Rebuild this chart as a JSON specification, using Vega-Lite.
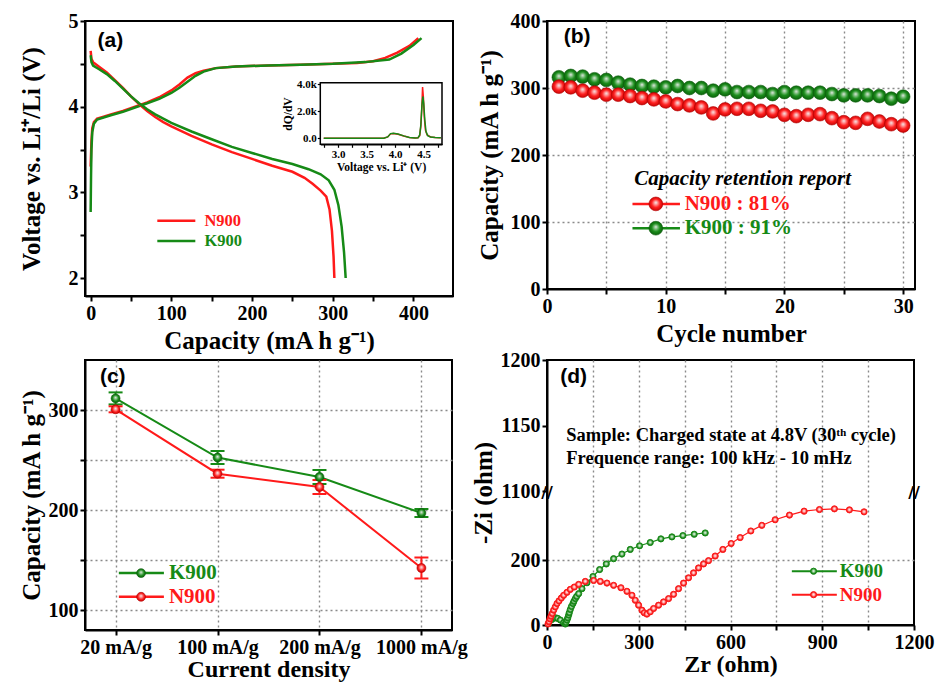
{
  "$schema": "https://vega.github.io/schema/vega-lite/v6.json",
  "background": "white",
  "padding": {"left": 18, "top": 10, "right": 5, "bottom": 3},
  "bounds": "flush",
  "columns": 2,
  "spacing": {"row": 64, "column": 94},
  "datasets": {
    "volt": [
      {"s":"N900","kind":"ch","cap":0,"v":3.3},{"s":"N900","kind":"ch","cap":1,"v":3.6},{"s":"N900","kind":"ch","cap":2,"v":3.75},{"s":"N900","kind":"ch","cap":4,"v":3.82},{"s":"N900","kind":"ch","cap":8,"v":3.86},{"s":"N900","kind":"ch","cap":15,"v":3.88},{"s":"N900","kind":"ch","cap":25,"v":3.91},{"s":"N900","kind":"ch","cap":40,"v":3.95},{"s":"N900","kind":"ch","cap":55,"v":4.0},{"s":"N900","kind":"ch","cap":70,"v":4.05},{"s":"N900","kind":"ch","cap":85,"v":4.11},{"s":"N900","kind":"ch","cap":100,"v":4.19},{"s":"N900","kind":"ch","cap":110,"v":4.26},{"s":"N900","kind":"ch","cap":120,"v":4.34},{"s":"N900","kind":"ch","cap":130,"v":4.39},{"s":"N900","kind":"ch","cap":140,"v":4.42},{"s":"N900","kind":"ch","cap":155,"v":4.45},{"s":"N900","kind":"ch","cap":180,"v":4.47},{"s":"N900","kind":"ch","cap":220,"v":4.48},{"s":"N900","kind":"ch","cap":260,"v":4.49},{"s":"N900","kind":"ch","cap":300,"v":4.5},{"s":"N900","kind":"ch","cap":330,"v":4.51},{"s":"N900","kind":"ch","cap":350,"v":4.53},{"s":"N900","kind":"ch","cap":365,"v":4.57},{"s":"N900","kind":"ch","cap":380,"v":4.63},{"s":"N900","kind":"ch","cap":395,"v":4.71},{"s":"N900","kind":"ch","cap":406,"v":4.8},
      {"s":"K900","kind":"ch","cap":0,"v":2.77},{"s":"K900","kind":"ch","cap":0.5,"v":3.2},{"s":"K900","kind":"ch","cap":1,"v":3.5},{"s":"K900","kind":"ch","cap":2,"v":3.7},{"s":"K900","kind":"ch","cap":4,"v":3.8},{"s":"K900","kind":"ch","cap":8,"v":3.85},{"s":"K900","kind":"ch","cap":15,"v":3.87},{"s":"K900","kind":"ch","cap":25,"v":3.9},{"s":"K900","kind":"ch","cap":40,"v":3.94},{"s":"K900","kind":"ch","cap":55,"v":3.99},{"s":"K900","kind":"ch","cap":70,"v":4.04},{"s":"K900","kind":"ch","cap":85,"v":4.09},{"s":"K900","kind":"ch","cap":100,"v":4.16},{"s":"K900","kind":"ch","cap":110,"v":4.22},{"s":"K900","kind":"ch","cap":120,"v":4.29},{"s":"K900","kind":"ch","cap":130,"v":4.36},{"s":"K900","kind":"ch","cap":140,"v":4.41},{"s":"K900","kind":"ch","cap":155,"v":4.45},{"s":"K900","kind":"ch","cap":180,"v":4.47},{"s":"K900","kind":"ch","cap":220,"v":4.48},{"s":"K900","kind":"ch","cap":260,"v":4.49},{"s":"K900","kind":"ch","cap":300,"v":4.5},{"s":"K900","kind":"ch","cap":340,"v":4.52},{"s":"K900","kind":"ch","cap":370,"v":4.55},{"s":"K900","kind":"ch","cap":385,"v":4.62},{"s":"K900","kind":"ch","cap":400,"v":4.72},{"s":"K900","kind":"ch","cap":410,"v":4.8},
      {"s":"N900","kind":"dis","cap":0,"v":4.65},{"s":"N900","kind":"dis","cap":1,"v":4.56},{"s":"N900","kind":"dis","cap":3,"v":4.52},{"s":"N900","kind":"dis","cap":10,"v":4.47},{"s":"N900","kind":"dis","cap":20,"v":4.4},{"s":"N900","kind":"dis","cap":30,"v":4.31},{"s":"N900","kind":"dis","cap":40,"v":4.22},{"s":"N900","kind":"dis","cap":50,"v":4.12},{"s":"N900","kind":"dis","cap":60,"v":4.03},{"s":"N900","kind":"dis","cap":70,"v":3.95},{"s":"N900","kind":"dis","cap":80,"v":3.88},{"s":"N900","kind":"dis","cap":90,"v":3.82},{"s":"N900","kind":"dis","cap":100,"v":3.77},{"s":"N900","kind":"dis","cap":125,"v":3.66},{"s":"N900","kind":"dis","cap":150,"v":3.56},{"s":"N900","kind":"dis","cap":175,"v":3.47},{"s":"N900","kind":"dis","cap":200,"v":3.39},{"s":"N900","kind":"dis","cap":225,"v":3.31},{"s":"N900","kind":"dis","cap":250,"v":3.24},{"s":"N900","kind":"dis","cap":265,"v":3.17},{"s":"N900","kind":"dis","cap":275,"v":3.1},{"s":"N900","kind":"dis","cap":285,"v":3.02},{"s":"N900","kind":"dis","cap":292,"v":2.95},{"s":"N900","kind":"dis","cap":296,"v":2.8},{"s":"N900","kind":"dis","cap":299,"v":2.55},{"s":"N900","kind":"dis","cap":301,"v":2.25},{"s":"N900","kind":"dis","cap":302,"v":2.0},
      {"s":"K900","kind":"dis","cap":0,"v":4.6},{"s":"K900","kind":"dis","cap":1,"v":4.52},{"s":"K900","kind":"dis","cap":3,"v":4.48},{"s":"K900","kind":"dis","cap":10,"v":4.44},{"s":"K900","kind":"dis","cap":20,"v":4.38},{"s":"K900","kind":"dis","cap":30,"v":4.3},{"s":"K900","kind":"dis","cap":40,"v":4.21},{"s":"K900","kind":"dis","cap":50,"v":4.12},{"s":"K900","kind":"dis","cap":60,"v":4.04},{"s":"K900","kind":"dis","cap":70,"v":3.97},{"s":"K900","kind":"dis","cap":80,"v":3.91},{"s":"K900","kind":"dis","cap":90,"v":3.86},{"s":"K900","kind":"dis","cap":100,"v":3.81},{"s":"K900","kind":"dis","cap":125,"v":3.71},{"s":"K900","kind":"dis","cap":150,"v":3.62},{"s":"K900","kind":"dis","cap":175,"v":3.53},{"s":"K900","kind":"dis","cap":200,"v":3.46},{"s":"K900","kind":"dis","cap":225,"v":3.39},{"s":"K900","kind":"dis","cap":250,"v":3.33},{"s":"K900","kind":"dis","cap":270,"v":3.27},{"s":"K900","kind":"dis","cap":285,"v":3.21},{"s":"K900","kind":"dis","cap":295,"v":3.14},{"s":"K900","kind":"dis","cap":302,"v":3.03},{"s":"K900","kind":"dis","cap":307,"v":2.85},{"s":"K900","kind":"dis","cap":311,"v":2.6},{"s":"K900","kind":"dis","cap":314,"v":2.3},{"s":"K900","kind":"dis","cap":316,"v":2.0}
    ],
    "dq": [
      {"s":"N900","v":2.75,"dq":0},{"s":"N900","v":3.5,"dq":0},{"s":"N900","v":3.8,"dq":10},{"s":"N900","v":3.87,"dq":100},{"s":"N900","v":3.92,"dq":330},{"s":"N900","v":3.97,"dq":360},{"s":"N900","v":4.05,"dq":300},{"s":"N900","v":4.15,"dq":170},{"s":"N900","v":4.25,"dq":60},{"s":"N900","v":4.35,"dq":20},{"s":"N900","v":4.4,"dq":40},{"s":"N900","v":4.43,"dq":200},{"s":"N900","v":4.45,"dq":900},{"s":"N900","v":4.47,"dq":2600},{"s":"N900","v":4.48,"dq":3800},{"s":"N900","v":4.495,"dq":3000},{"s":"N900","v":4.51,"dq":1600},{"s":"N900","v":4.53,"dq":600},{"s":"N900","v":4.56,"dq":250},{"s":"N900","v":4.62,"dq":100},{"s":"N900","v":4.7,"dq":60},{"s":"N900","v":4.8,"dq":40},
      {"s":"K900","v":2.75,"dq":0},{"s":"K900","v":3.5,"dq":0},{"s":"K900","v":3.8,"dq":10},{"s":"K900","v":3.87,"dq":100},{"s":"K900","v":3.92,"dq":350},{"s":"K900","v":3.97,"dq":380},{"s":"K900","v":4.05,"dq":320},{"s":"K900","v":4.15,"dq":180},{"s":"K900","v":4.25,"dq":60},{"s":"K900","v":4.35,"dq":20},{"s":"K900","v":4.4,"dq":40},{"s":"K900","v":4.43,"dq":250},{"s":"K900","v":4.45,"dq":1000},{"s":"K900","v":4.47,"dq":2500},{"s":"K900","v":4.485,"dq":3100},{"s":"K900","v":4.5,"dq":2600},{"s":"K900","v":4.52,"dq":1300},{"s":"K900","v":4.54,"dq":500},{"s":"K900","v":4.57,"dq":200},{"s":"K900","v":4.62,"dq":90},{"s":"K900","v":4.7,"dq":60},{"s":"K900","v":4.8,"dq":40}
    ],
    "cyc": [
      {"s":"K900","n":1,"c":316},{"s":"K900","n":2,"c":318},{"s":"K900","n":3,"c":317},{"s":"K900","n":4,"c":313},{"s":"K900","n":5,"c":312},{"s":"K900","n":6,"c":308},{"s":"K900","n":7,"c":305},{"s":"K900","n":8,"c":303},{"s":"K900","n":9,"c":302},{"s":"K900","n":10,"c":301},{"s":"K900","n":11,"c":303},{"s":"K900","n":12,"c":300},{"s":"K900","n":13,"c":300},{"s":"K900","n":14,"c":296},{"s":"K900","n":15,"c":298},{"s":"K900","n":16,"c":294},{"s":"K900","n":17,"c":294},{"s":"K900","n":18,"c":294},{"s":"K900","n":19,"c":291},{"s":"K900","n":20,"c":294},{"s":"K900","n":21,"c":293},{"s":"K900","n":22,"c":293},{"s":"K900","n":23,"c":293},{"s":"K900","n":24,"c":291},{"s":"K900","n":25,"c":289},{"s":"K900","n":26,"c":289},{"s":"K900","n":27,"c":289},{"s":"K900","n":28,"c":288},{"s":"K900","n":29,"c":284},{"s":"K900","n":30,"c":287},
      {"s":"N900","n":1,"c":302},{"s":"N900","n":2,"c":301},{"s":"N900","n":3,"c":296},{"s":"N900","n":4,"c":293},{"s":"N900","n":5,"c":290},{"s":"N900","n":6,"c":290},{"s":"N900","n":7,"c":288},{"s":"N900","n":8,"c":285},{"s":"N900","n":9,"c":283},{"s":"N900","n":10,"c":280},{"s":"N900","n":11,"c":276},{"s":"N900","n":12,"c":274},{"s":"N900","n":13,"c":271},{"s":"N900","n":14,"c":262},{"s":"N900","n":15,"c":268},{"s":"N900","n":16,"c":269},{"s":"N900","n":17,"c":269},{"s":"N900","n":18,"c":266},{"s":"N900","n":19,"c":265},{"s":"N900","n":20,"c":260},{"s":"N900","n":21,"c":258},{"s":"N900","n":22,"c":260},{"s":"N900","n":23,"c":261},{"s":"N900","n":24,"c":255},{"s":"N900","n":25,"c":249},{"s":"N900","n":26,"c":248},{"s":"N900","n":27,"c":254},{"s":"N900","n":28,"c":250},{"s":"N900","n":29,"c":246},{"s":"N900","n":30,"c":244}
    ],
    "rate": [
      {"s":"K900","i":0,"c":311.6,"lo":305.6,"hi":317.6},{"s":"K900","i":1,"c":252.5,"lo":246,"hi":259},{"s":"K900","i":2,"c":233,"lo":226,"hi":240},{"s":"K900","i":3,"c":197,"lo":193,"hi":201},
      {"s":"N900","i":0,"c":300.7,"lo":297.7,"hi":303.7},{"s":"N900","i":1,"c":236.3,"lo":232.3,"hi":240.3},{"s":"N900","i":2,"c":223,"lo":216,"hi":230},{"s":"N900","i":3,"c":142,"lo":131.5,"hi":152.5}
    ],
    "eis": [
      {"s":"K900","zr":5.4,"zi":5},{"s":"K900","zr":16.3,"zi":17.3},{"s":"K900","zr":27.2,"zi":22.3},{"s":"K900","zr":34.8,"zi":20.3},{"s":"K900","zr":43.6,"zi":15.2},{"s":"K900","zr":54.4,"zi":7.1},{"s":"K900","zr":59.9,"zi":3},{"s":"K900","zr":62,"zi":8},{"s":"K900","zr":65.3,"zi":15.2},{"s":"K900","zr":68,"zi":22},{"s":"K900","zr":70.8,"zi":30.5},{"s":"K900","zr":73,"zi":38},{"s":"K900","zr":76.2,"zi":47.7},{"s":"K900","zr":80,"zi":57},{"s":"K900","zr":84.9,"zi":66},{"s":"K900","zr":88,"zi":73},{"s":"K900","zr":92.6,"zi":81.2},{"s":"K900","zr":97,"zi":88},{"s":"K900","zr":103.5,"zi":96.4},{"s":"K900","zr":114.3,"zi":111.7},{"s":"K900","zr":130.7,"zi":130},{"s":"K900","zr":150.3,"zi":149.2},{"s":"K900","zr":172.1,"zi":170.6},{"s":"K900","zr":193.8,"zi":187.8},{"s":"K900","zr":217.8,"zi":204},{"s":"K900","zr":245,"zi":218.3},{"s":"K900","zr":272.2,"zi":232.5},{"s":"K900","zr":302.7,"zi":243.7},{"s":"K900","zr":337.6,"zi":253.8},{"s":"K900","zr":372.4,"zi":265},{"s":"K900","zr":408.4,"zi":271.1},{"s":"K900","zr":444.3,"zi":275.1},{"s":"K900","zr":481.3,"zi":279.2},{"s":"K900","zr":517.3,"zi":283.2},
      {"s":"N900","zr":3.3,"zi":3},{"s":"N900","zr":6.5,"zi":10},{"s":"N900","zr":9.8,"zi":19},{"s":"N900","zr":13,"zi":27},{"s":"N900","zr":17.4,"zi":35.5},{"s":"N900","zr":21.8,"zi":45.7},{"s":"N900","zr":27.2,"zi":55.8},{"s":"N900","zr":32.7,"zi":66},{"s":"N900","zr":39.2,"zi":74},{"s":"N900","zr":46.8,"zi":83},{"s":"N900","zr":54.5,"zi":91.4},{"s":"N900","zr":65.3,"zi":100.5},{"s":"N900","zr":76.2,"zi":109.6},{"s":"N900","zr":89.3,"zi":116.8},{"s":"N900","zr":103.5,"zi":124.9},{"s":"N900","zr":125.2,"zi":134},{"s":"N900","zr":152.5,"zi":137},{"s":"N900","zr":174.2,"zi":134},{"s":"N900","zr":196,"zi":129},{"s":"N900","zr":217.8,"zi":122},{"s":"N900","zr":241.7,"zi":114.7},{"s":"N900","zr":261.4,"zi":103.6},{"s":"N900","zr":277.7,"zi":91.4},{"s":"N900","zr":288.6,"zi":76.1},{"s":"N900","zr":299.5,"zi":60.9},{"s":"N900","zr":310.4,"zi":45.7},{"s":"N900","zr":318,"zi":37.6},{"s":"N900","zr":326.7,"zi":33.5},{"s":"N900","zr":337.6,"zi":40.6},{"s":"N900","zr":348.5,"zi":50.8},{"s":"N900","zr":364.8,"zi":60.9},{"s":"N900","zr":381.1,"zi":71.1},{"s":"N900","zr":397.5,"zi":81.2},{"s":"N900","zr":413.8,"zi":94.4},{"s":"N900","zr":430.1,"zi":111.7},{"s":"N900","zr":446.5,"zi":128.9},{"s":"N900","zr":462.8,"zi":145.2},{"s":"N900","zr":479.1,"zi":160.4},{"s":"N900","zr":495.5,"zi":175.6},{"s":"N900","zr":511.8,"zi":187.8},{"s":"N900","zr":528.1,"zi":198},{"s":"N900","zr":549.9,"zi":212.2},{"s":"N900","zr":575,"zi":232.5},{"s":"N900","zr":602.2,"zi":250.8},{"s":"N900","zr":631.6,"zi":269},{"s":"N900","zr":666.4,"zi":289.3},{"s":"N900","zr":702.4,"zi":306.6},{"s":"N900","zr":746,"zi":323.9},{"s":"N900","zr":792.8,"zi":338.1},{"s":"N900","zr":840.7,"zi":350.3},{"s":"N900","zr":890.8,"zi":355.3},{"s":"N900","zr":939.8,"zi":357.4},{"s":"N900","zr":988.8,"zi":354.3},{"s":"N900","zr":1036.7,"zi":348.2}
    ]
  },
  "concat": [
    {
      "width": 368, "height": 275,
      "layer": [
        {
          "layer": [
            {
              "data": {"name": "volt"},
              "mark": {"type": "line", "strokeWidth": 2.5},
              "encoding": {
                "x": {"field": "cap", "type": "quantitative", "scale": {"domain": [-7, 449], "nice": false, "zero": false},
                      "axis": {"title": "Capacity (mA h g⁻¹)", "values": [0,50,100,150,200,250,300,350,400], "labelExpr": "datum.value % 100 == 0 ? format(datum.value, 'd') : ''", "titlePadding": 5}},
                "y": {"field": "v", "type": "quantitative", "scale": {"domain": [1.79, 5.0], "nice": false, "zero": false},
                      "axis": {"title": "Voltage vs. Li⁺/Li (V)", "values": [2,2.5,3,3.5,4,4.5,5], "labelExpr": "datum.value % 1 == 0 ? format(datum.value, 'd') : ''", "titlePadding": 24}},
                "color": {"field": "s", "type": "nominal", "scale": {"domain": ["N900", "K900"], "range": ["#ff1a1a", "#168a16"]}, "legend": null},
                "detail": {"field": "kind"}
              }
            },
            {"data": {"values": [{}]}, "mark": {"type": "text", "text": "(a)", "font": "Liberation Sans", "fontWeight": "bold", "fontSize": 21, "align": "left", "baseline": "middle", "color": "black"},
             "encoding": {"x": {"datum": 8.5}, "y": {"datum": 4.77}}},
            {"data": {"values": [{}]}, "mark": {"type": "rule", "color": "#ff1a1a", "strokeWidth": 2.5}, "encoding": {"x": {"datum": 82.6}, "x2": {"datum": 129.7}, "y": {"datum": 2.667}}},
            {"data": {"values": [{}]}, "mark": {"type": "rule", "color": "#168a16", "strokeWidth": 2.5}, "encoding": {"x": {"datum": 82.6}, "x2": {"datum": 129.7}, "y": {"datum": 2.433}}},
            {"data": {"values": [{}]}, "mark": {"type": "text", "text": "N900", "fontSize": 16.5, "align": "left", "baseline": "middle", "color": "#ff1a1a"}, "encoding": {"x": {"datum": 141}, "y": {"datum": 2.667}}},
            {"data": {"values": [{}]}, "mark": {"type": "text", "text": "K900", "fontSize": 16.5, "align": "left", "baseline": "middle", "color": "#168a16"}, "encoding": {"x": {"datum": 141}, "y": {"datum": 2.433}}}
          ]
        },
        {
          "layer": [
            {"data": {"values": [{}]}, "mark": {"type": "rect", "fill": "white", "stroke": "black", "strokeWidth": 1.5},
             "encoding": {"x": {"datum": 2.69, "axis": {"title": "Voltage vs. Li⁺ (V)"}}, "x2": {"datum": 4.82}, "y": {"datum": -444, "axis": {"title": "dQ/dV"}}, "y2": {"datum": 4120}}},
            {"data": {"name": "dq"}, "mark": {"type": "line", "strokeWidth": 1.5},
             "encoding": {
               "x": {"field": "v", "type": "quantitative", "scale": {"domain": [2.69, 4.82], "range": [235.3, 357], "nice": false, "zero": false},
                     "axis": {"orient": "bottom", "offset": -151.7, "title": "Voltage vs. Li⁺ (V)", "values": [2.75,3,3.25,3.5,3.75,4,4.25,4.5,4.75], "labelExpr": "datum.value % 0.5 == 0 ? format(datum.value, '.1f') : ''", "labelFontSize": 11, "titleFontSize": 11.5, "tickSize": 3, "tickWidth": 1.2, "domainWidth": 1.5, "titlePadding": 2, "labelPadding": 1}},
               "y": {"field": "dq", "type": "quantitative", "scale": {"domain": [-444, 4120], "range": [123.3, 61.7], "nice": false, "zero": false},
                     "axis": {"orient": "left", "offset": -235.3, "title": "dQ/dV", "values": [0, 2000, 4000], "labelExpr": "datum.value == 0 ? '0.0' : format(datum.value / 1000, '.1f') + 'k'", "labelFontSize": 11, "titleFontSize": 11.5, "tickSize": 3, "tickWidth": 1.2, "domainWidth": 1.5, "titlePadding": 3, "labelPadding": 1}},
               "color": {"field": "s", "type": "nominal", "legend": null}
             }}
          ]
        }
      ],
      "resolve": {"scale": {"x": "independent", "y": "independent"}, "axis": {"x": "independent", "y": "independent"}}
    },
    {
      "width": 368, "height": 268,
      "layer": [
        {"data": {"name": "cyc"}, "transform": [{"filter": "datum.s == 'K900'"}],
         "mark": {"type": "circle", "size": 190, "opacity": 1, "stroke": "#0b5e0b", "strokeWidth": 0.6,
                  "fill": {"gradient": "radial", "x1": 0.5, "y1": 0.4, "r1": 0, "x2": 0.5, "y2": 0.5, "r2": 0.55, "stops": [{"offset": 0, "color": "#e8e8e8"}, {"offset": 0.25, "color": "#7fbf7f"}, {"offset": 0.55, "color": "#1a8c1a"}, {"offset": 1, "color": "#0a5a0a"}]}},
         "encoding": {
           "x": {"field": "n", "type": "quantitative", "scale": {"domain": [0, 31], "nice": false, "zero": false},
                 "axis": {"title": "Cycle number", "values": [0,5,10,15,20,25,30], "labelExpr": "datum.value % 10 == 0 ? format(datum.value, 'd') : ''", "grid": true, "gridOpacity": {"condition": {"test": "datum.value == 0", "value": 0}, "value": 1}, "titlePadding": 5}},
           "y": {"field": "c", "type": "quantitative", "scale": {"domain": [0, 400], "nice": false, "zero": false},
                 "axis": {"title": "Capacity (mA h g⁻¹)", "values": [0,50,100,150,200,250,300,350,400], "labelExpr": "datum.value % 100 == 0 ? format(datum.value, 'd') : ''", "grid": true, "gridOpacity": {"condition": {"test": "datum.value == 0 || datum.value == 400", "value": 0}, "value": 1}, "titlePadding": 8}}
         }},
        {"data": {"name": "cyc"}, "transform": [{"filter": "datum.s == 'N900'"}],
         "mark": {"type": "circle", "size": 190, "opacity": 1, "stroke": "#b00000", "strokeWidth": 0.6,
                  "fill": {"gradient": "radial", "x1": 0.5, "y1": 0.4, "r1": 0, "x2": 0.5, "y2": 0.5, "r2": 0.55, "stops": [{"offset": 0, "color": "#f0f0f0"}, {"offset": 0.25, "color": "#ff9090"}, {"offset": 0.55, "color": "#ff2020"}, {"offset": 1, "color": "#c00000"}]}},
         "encoding": {"x": {"field": "n", "type": "quantitative"}, "y": {"field": "c", "type": "quantitative"}}},
        {"data": {"values": [{}]}, "mark": {"type": "text", "text": "(b)", "font": "Liberation Sans", "fontWeight": "bold", "fontSize": 21, "align": "left", "baseline": "middle", "color": "black"},
         "encoding": {"x": {"datum": 1.41}, "y": {"datum": 376}}},
        {"data": {"values": [{}]}, "mark": {"type": "text", "text": "Capacity retention report", "fontStyle": "italic", "fontSize": 21, "align": "left", "baseline": "middle", "color": "black"},
         "encoding": {"x": {"datum": 7.34}, "y": {"datum": 164.4}}},
        {"data": {"values": [{}]}, "mark": {"type": "rule", "color": "#ff1a1a", "strokeWidth": 2.5}, "encoding": {"x": {"datum": 7.2}, "x2": {"datum": 11.2}, "y": {"datum": 127}}},
        {"data": {"values": [{}]}, "mark": {"type": "rule", "color": "#168a16", "strokeWidth": 2.5}, "encoding": {"x": {"datum": 7.2}, "x2": {"datum": 11.2}, "y": {"datum": 90.7}}},
        {"data": {"values": [{}]}, "mark": {"type": "circle", "size": 190, "opacity": 1, "stroke": "#b00000", "strokeWidth": 0.6,
                  "fill": {"gradient": "radial", "x1": 0.5, "y1": 0.4, "r1": 0, "x2": 0.5, "y2": 0.5, "r2": 0.55, "stops": [{"offset": 0, "color": "#f0f0f0"}, {"offset": 0.25, "color": "#ff9090"}, {"offset": 0.55, "color": "#ff2020"}, {"offset": 1, "color": "#c00000"}]}},
         "encoding": {"x": {"datum": 9.17}, "y": {"datum": 127}}},
        {"data": {"values": [{}]}, "mark": {"type": "circle", "size": 190, "opacity": 1, "stroke": "#0b5e0b", "strokeWidth": 0.6,
                  "fill": {"gradient": "radial", "x1": 0.5, "y1": 0.4, "r1": 0, "x2": 0.5, "y2": 0.5, "r2": 0.55, "stops": [{"offset": 0, "color": "#e8e8e8"}, {"offset": 0.25, "color": "#7fbf7f"}, {"offset": 0.55, "color": "#1a8c1a"}, {"offset": 1, "color": "#0a5a0a"}]}},
         "encoding": {"x": {"datum": 9.17}, "y": {"datum": 90.7}}},
        {"data": {"values": [{}]}, "mark": {"type": "text", "text": "N900 : 81%", "fontSize": 21, "align": "left", "baseline": "middle", "color": "#ff1a1a"}, "encoding": {"x": {"datum": 11.6}, "y": {"datum": 127}}},
        {"data": {"values": [{}]}, "mark": {"type": "text", "text": "K900 : 91%", "fontSize": 21, "align": "left", "baseline": "middle", "color": "#168a16"}, "encoding": {"x": {"datum": 11.6}, "y": {"datum": 90.7}}}
      ]
    },
    {
      "width": 367, "height": 270,
      "layer": [
        {"data": {"name": "rate"}, "mark": {"type": "line", "strokeWidth": 2},
         "encoding": {
           "x": {"field": "i", "type": "quantitative", "scale": {"domain": [-0.3, 3.3], "nice": false, "zero": false},
                 "axis": {"title": "Current density", "titleFontSize": 24, "values": [0, 1, 2, 3], "labelExpr": "['20 mA/g', '100 mA/g', '200 mA/g', '1000 mA/g'][datum.value]", "grid": true, "titlePadding": 0}},
           "y": {"field": "c", "type": "quantitative", "scale": {"domain": [80, 350], "nice": false, "zero": false},
                 "axis": {"title": "Capacity (mA h g⁻¹)", "values": [100, 150, 200, 250, 300], "labelExpr": "datum.value % 100 == 0 ? format(datum.value, 'd') : ''", "grid": true, "titlePadding": 4}},
           "color": {"field": "s", "type": "nominal", "legend": null}
         }},
        {"data": {"name": "rate"}, "mark": {"type": "rule", "strokeWidth": 2},
         "encoding": {"x": {"field": "i", "type": "quantitative"}, "y": {"field": "lo", "type": "quantitative"}, "y2": {"field": "hi"}, "color": {"field": "s", "type": "nominal", "legend": null}}},
        {"data": {"name": "rate"}, "mark": {"type": "tick", "orient": "horizontal", "size": 14, "thickness": 2, "opacity": 1},
         "encoding": {"x": {"field": "i", "type": "quantitative"}, "y": {"field": "lo", "type": "quantitative"}, "color": {"field": "s", "type": "nominal", "legend": null}}},
        {"data": {"name": "rate"}, "mark": {"type": "tick", "orient": "horizontal", "size": 14, "thickness": 2, "opacity": 1},
         "encoding": {"x": {"field": "i", "type": "quantitative"}, "y": {"field": "hi", "type": "quantitative"}, "color": {"field": "s", "type": "nominal", "legend": null}}},
        {"data": {"name": "rate"}, "transform": [{"filter": "datum.s == 'K900'"}],
         "mark": {"type": "circle", "size": 80, "opacity": 1, "stroke": "#0b5e0b", "strokeWidth": 0.6,
                  "fill": {"gradient": "radial", "x1": 0.5, "y1": 0.4, "r1": 0, "x2": 0.5, "y2": 0.5, "r2": 0.55, "stops": [{"offset": 0, "color": "#e8e8e8"}, {"offset": 0.3, "color": "#7fbf7f"}, {"offset": 0.6, "color": "#1a8c1a"}, {"offset": 1, "color": "#0a5a0a"}]}},
         "encoding": {"x": {"field": "i", "type": "quantitative"}, "y": {"field": "c", "type": "quantitative"}}},
        {"data": {"name": "rate"}, "transform": [{"filter": "datum.s == 'N900'"}],
         "mark": {"type": "circle", "size": 80, "opacity": 1, "stroke": "#b00000", "strokeWidth": 0.6,
                  "fill": {"gradient": "radial", "x1": 0.5, "y1": 0.4, "r1": 0, "x2": 0.5, "y2": 0.5, "r2": 0.55, "stops": [{"offset": 0, "color": "#f0f0f0"}, {"offset": 0.3, "color": "#ff9090"}, {"offset": 0.6, "color": "#ff2020"}, {"offset": 1, "color": "#c00000"}]}},
         "encoding": {"x": {"field": "i", "type": "quantitative"}, "y": {"field": "c", "type": "quantitative"}}},
        {"data": {"values": [{}]}, "mark": {"type": "text", "text": "(c)", "font": "Liberation Sans", "fontWeight": "bold", "fontSize": 21, "align": "left", "baseline": "middle", "color": "black"},
         "encoding": {"x": {"datum": -0.154}, "y": {"datum": 333.3}}},
        {"data": {"values": [{}]}, "mark": {"type": "rule", "color": "#168a16", "strokeWidth": 2.5}, "encoding": {"x": {"datum": 0.032}, "x2": {"datum": 0.474}, "y": {"datum": 136.9}}},
        {"data": {"values": [{}]}, "mark": {"type": "rule", "color": "#ff1a1a", "strokeWidth": 2.5}, "encoding": {"x": {"datum": 0.032}, "x2": {"datum": 0.474}, "y": {"datum": 113.2}}},
        {"data": {"values": [{}]}, "mark": {"type": "circle", "size": 80, "opacity": 1, "stroke": "#0b5e0b", "strokeWidth": 0.6,
                  "fill": {"gradient": "radial", "x1": 0.5, "y1": 0.4, "r1": 0, "x2": 0.5, "y2": 0.5, "r2": 0.55, "stops": [{"offset": 0, "color": "#e8e8e8"}, {"offset": 0.3, "color": "#7fbf7f"}, {"offset": 0.6, "color": "#1a8c1a"}, {"offset": 1, "color": "#0a5a0a"}]}},
         "encoding": {"x": {"datum": 0.25}, "y": {"datum": 136.9}}},
        {"data": {"values": [{}]}, "mark": {"type": "circle", "size": 80, "opacity": 1, "stroke": "#b00000", "strokeWidth": 0.6,
                  "fill": {"gradient": "radial", "x1": 0.5, "y1": 0.4, "r1": 0, "x2": 0.5, "y2": 0.5, "r2": 0.55, "stops": [{"offset": 0, "color": "#f0f0f0"}, {"offset": 0.3, "color": "#ff9090"}, {"offset": 0.6, "color": "#ff2020"}, {"offset": 1, "color": "#c00000"}]}},
         "encoding": {"x": {"datum": 0.25}, "y": {"datum": 113.2}}},
        {"data": {"values": [{}]}, "mark": {"type": "text", "text": "K900", "fontSize": 21, "align": "left", "baseline": "middle", "color": "#168a16"}, "encoding": {"x": {"datum": 0.523}, "y": {"datum": 136.9}}},
        {"data": {"values": [{}]}, "mark": {"type": "text", "text": "N900", "fontSize": 21, "align": "left", "baseline": "middle", "color": "#ff1a1a"}, "encoding": {"x": {"datum": 0.523}, "y": {"datum": 113.2}}}
      ]
    },
    {
      "width": 367, "height": 265,
      "layer": [
        {"data": {"name": "eis"}, "mark": {"type": "line", "strokeWidth": 1.2},
         "encoding": {
           "x": {"field": "zr", "type": "quantitative", "scale": {"domain": [0, 1200], "nice": false, "zero": false},
                 "axis": {"title": "Zr (ohm)", "titleFontSize": 24, "values": [0,150,300,450,600,750,900,1050,1200], "labelExpr": "datum.value % 300 == 0 ? format(datum.value, 'd') : ''", "grid": true, "gridOpacity": {"condition": {"test": "datum.value == 0 || datum.value == 1200", "value": 0}, "value": 1}, "titlePadding": 0}},
           "y": {"field": "zi", "type": "quantitative", "scale": {"domain": [0, 400, 1100, 1200], "range": [265, 135, 131, 0], "nice": false, "zero": false},
                 "axis": {"title": "-Zi (ohm)", "values": [0,100,200,300,1100,1125,1150,1175,1200], "labelExpr": "(datum.value == 0 || datum.value == 200 || datum.value == 1100 || datum.value == 1150 || datum.value == 1200) ? format(datum.value, 'd') : ''", "grid": true, "gridOpacity": {"condition": {"test": "datum.value == 0 || datum.value == 1100 || datum.value == 1125 || datum.value == 1150 || datum.value == 1200", "value": 0}, "value": 1}, "titlePadding": 4}},
           "color": {"field": "s", "type": "nominal", "legend": null}
         }},
        {"data": {"name": "eis"}, "transform": [{"filter": "datum.s == 'K900'"}],
         "mark": {"type": "circle", "size": 38, "opacity": 1, "stroke": "#168a16", "strokeWidth": 1,
                  "fill": {"gradient": "radial", "x1": 0.5, "y1": 0.45, "r1": 0, "x2": 0.5, "y2": 0.5, "r2": 0.55, "stops": [{"offset": 0, "color": "#ffffff"}, {"offset": 0.35, "color": "#9fd09f"}, {"offset": 0.7, "color": "#1a8c1a"}, {"offset": 1, "color": "#0a5a0a"}]}},
         "encoding": {"x": {"field": "zr", "type": "quantitative"}, "y": {"field": "zi", "type": "quantitative"}}},
        {"data": {"name": "eis"}, "transform": [{"filter": "datum.s == 'N900'"}],
         "mark": {"type": "circle", "size": 38, "opacity": 1, "stroke": "#ff1a1a", "strokeWidth": 1,
                  "fill": {"gradient": "radial", "x1": 0.5, "y1": 0.45, "r1": 0, "x2": 0.5, "y2": 0.5, "r2": 0.55, "stops": [{"offset": 0, "color": "#ffffff"}, {"offset": 0.35, "color": "#ffb0b0"}, {"offset": 0.7, "color": "#ff2020"}, {"offset": 1, "color": "#c00000"}]}},
         "encoding": {"x": {"field": "zr", "type": "quantitative"}, "y": {"field": "zi", "type": "quantitative"}}},
        {"data": {"values": [{}]}, "mark": {"type": "text", "text": "(d)", "font": "Liberation Sans", "fontWeight": "bold", "fontSize": 21, "align": "left", "baseline": "middle", "color": "black"},
         "encoding": {"x": {"datum": 43.5}, "y": {"datum": 1187.4}}},
        {"data": {"values": [{}]}, "mark": {"type": "text", "text": "Sample: Charged state at 4.8V (30ᵗʰ cycle)", "fontSize": 18.5, "align": "left", "baseline": "middle", "color": "black"},
         "encoding": {"x": {"datum": 63}, "y": {"datum": 1142.4}}},
        {"data": {"values": [{}]}, "mark": {"type": "text", "text": "Frequence range: 100 kHz - 10 mHz", "fontSize": 18.5, "align": "left", "baseline": "middle", "color": "black"},
         "encoding": {"x": {"datum": 63}, "y": {"datum": 1125.5}}},
        {"data": {"values": [{}]}, "mark": {"type": "text", "text": "//", "font": "DejaVu Sans", "fontSize": 16, "fontWeight": "bold", "align": "center", "baseline": "middle", "color": "black"},
         "encoding": {"x": {"datum": 0}, "y": {"datum": 750}}},
        {"data": {"values": [{}]}, "mark": {"type": "text", "text": "//", "font": "DejaVu Sans", "fontSize": 16, "fontWeight": "bold", "align": "center", "baseline": "middle", "color": "black"},
         "encoding": {"x": {"datum": 1200}, "y": {"datum": 750}}},
        {"data": {"values": [{}]}, "mark": {"type": "rule", "color": "#168a16", "strokeWidth": 2}, "encoding": {"x": {"datum": 800.6}, "x2": {"datum": 947.7}, "y": {"datum": 165.5}}},
        {"data": {"values": [{}]}, "mark": {"type": "rule", "color": "#ff1a1a", "strokeWidth": 2}, "encoding": {"x": {"datum": 800.6}, "x2": {"datum": 947.7}, "y": {"datum": 93.3}}},
        {"data": {"values": [{}]}, "mark": {"type": "circle", "size": 38, "opacity": 1, "stroke": "#168a16", "strokeWidth": 1,
                  "fill": {"gradient": "radial", "x1": 0.5, "y1": 0.45, "r1": 0, "x2": 0.5, "y2": 0.5, "r2": 0.55, "stops": [{"offset": 0, "color": "#ffffff"}, {"offset": 0.35, "color": "#9fd09f"}, {"offset": 0.7, "color": "#1a8c1a"}, {"offset": 1, "color": "#0a5a0a"}]}},
         "encoding": {"x": {"datum": 871.6}, "y": {"datum": 165.5}}},
        {"data": {"values": [{}]}, "mark": {"type": "circle", "size": 38, "opacity": 1, "stroke": "#ff1a1a", "strokeWidth": 1,
                  "fill": {"gradient": "radial", "x1": 0.5, "y1": 0.45, "r1": 0, "x2": 0.5, "y2": 0.5, "r2": 0.55, "stops": [{"offset": 0, "color": "#ffffff"}, {"offset": 0.35, "color": "#ffb0b0"}, {"offset": 0.7, "color": "#ff2020"}, {"offset": 1, "color": "#c00000"}]}},
         "encoding": {"x": {"datum": 871.6}, "y": {"datum": 93.3}}},
        {"data": {"values": [{}]}, "mark": {"type": "text", "text": "K900", "fontSize": 19, "align": "left", "baseline": "middle", "color": "#168a16"}, "encoding": {"x": {"datum": 957.5}, "y": {"datum": 165.5}}},
        {"data": {"values": [{}]}, "mark": {"type": "text", "text": "N900", "fontSize": 19, "align": "left", "baseline": "middle", "color": "#ff1a1a"}, "encoding": {"x": {"datum": 957.5}, "y": {"datum": 93.3}}}
      ]
    }
  ],
  "config": {
    "view": {"stroke": "black", "strokeWidth": 2},
    "font": "Liberation Serif",
    "text": {"font": "Liberation Serif", "fontWeight": "bold"},
    "axis": {
      "labelFont": "Liberation Serif", "labelFontWeight": "bold", "labelFontSize": 20, "labelColor": "black",
      "titleFont": "Liberation Serif", "titleFontWeight": "bold", "titleFontSize": 25, "titleColor": "black",
      "domainColor": "black", "domainWidth": 2, "tickColor": "black", "tickWidth": 2, "tickSize": 5,
      "labelPadding": 2, "labelFlush": false, "labelOverlap": false,
      "grid": false, "gridColor": "#8a8a8a", "gridDash": [2, 3], "gridWidth": 1.4
    }
  }
}
